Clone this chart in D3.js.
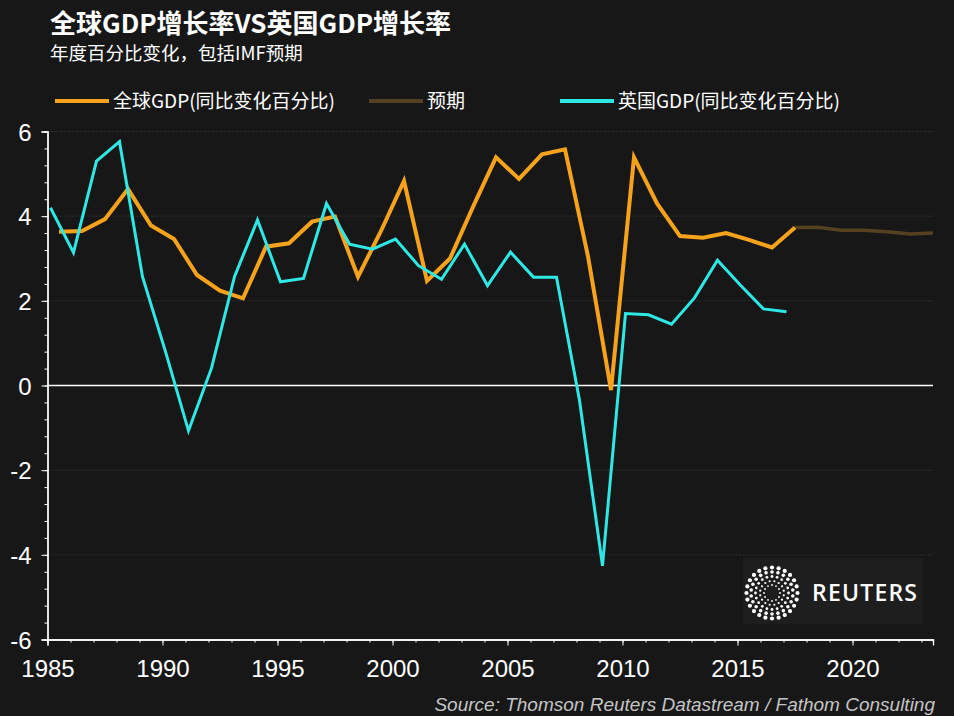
<!DOCTYPE html>
<html>
<head>
<meta charset="utf-8">
<script src="https://cdn.jsdelivr.net/npm/d3@7"></script>
<style>
  html, body { margin: 0; padding: 0; background: #171717; }
  svg { display: block; }
</style>
</head>
<body>
<svg id="chart" width="954" height="716"></svg>
<script>
// world GDP growth (IMF), % y/y, plotted mid-year
const worldYears = d3.range(1985, 2018);
const worldGDP = [3.63, 3.65, 3.93, 4.64, 3.78, 3.46, 2.61, 2.24, 2.06, 3.28, 3.36,
  3.87, 3.99, 2.57, 3.65, 4.83, 2.47, 3.0, 4.22, 5.39, 4.88, 5.46, 5.58, 3.05,
  -0.11, 5.39, 4.3, 3.53, 3.49, 3.6, 3.44, 3.26, 3.73];
// IMF forecast
const forecastYears = [2018, 2019, 2020, 2021, 2022, 2023];
const forecastGDP = [3.74, 3.67, 3.67, 3.63, 3.58, 3.6];
// UK GDP growth, % y/y
const ukYears = d3.range(1985, 2018);
const ukGDP = [4.2, 3.14, 5.3, 5.76, 2.57, 0.8, -1.07, 0.41, 2.57, 3.91, 2.45,
  2.53, 4.3, 3.34, 3.22, 3.46, 2.83, 2.51, 3.34, 2.36, 3.15, 2.56, 2.56, -0.35,
  -4.26, 1.7, 1.67, 1.45, 2.07, 2.96, 2.37, 1.81, 1.74];

const yMajor = [-6, -4, -2, 0, 2, 4, 6];
const xMajor = [1985, 1990, 1995, 2000, 2005, 2010, 2015, 2020];

const legendItems = [
  {label: '全球GDP(同比变化百分比)', color: '#f7a21b', x: 55},
  {label: '预期', color: '#55401f', x: 369},
  {label: '英国GDP(同比变化百分比)', color: '#2ee8e6', x: 560}
];

const svg = d3.select('#chart');
const cjk = '"Noto Sans CJK SC", "Noto Sans", sans-serif';
const latin = '"Liberation Sans", Arial, sans-serif';

let x = d3.scaleLinear().domain([1985, 2023.5]).range([47.5, 933]);
let y = d3.scaleLinear().domain([-6, 6]).range([639.5, 131.5]);

// dotted gridlines
svg.append('g')
  .selectAll('line')
  .data(yMajor.filter(d => d !== 0))
  .enter()
  .append('line')
  .attr('x1', x(1985))
  .attr('x2', x(2023.5))
  .attr('y1', d => y(d))
  .attr('y2', d => y(d))
  .attr('stroke', '#343434')
  .attr('stroke-width', 1)
  .attr('stroke-dasharray', '2,2');

// zero line
svg.append('line')
  .attr('x1', x(1985))
  .attr('x2', x(2023.5))
  .attr('y1', y(0))
  .attr('y2', y(0))
  .attr('stroke', '#ffffff')
  .attr('stroke-width', 1.3);

// y axis: minor ticks every 0.4, labelled majors every 2
let yMinor = svg.append('g')
  .attr('transform', 'translate(' + x(1985) + ',0)')
  .call(d3.axisLeft(y).tickValues(d3.range(0, 31).map(i => -6 + i * 0.4)).tickSize(3).tickFormat(''));

let yAxis = svg.append('g')
  .attr('transform', 'translate(' + x(1985) + ',0)')
  .call(d3.axisLeft(y).tickValues(yMajor).tickSize(6).tickPadding(10).tickFormat(d => String(d)));

// x axis
let xMinor = svg.append('g')
  .attr('transform', 'translate(0,' + y(-6) + ')')
  .call(d3.axisBottom(x).tickValues(d3.range(1985, 2024)).tickSize(3).tickFormat(''));

let xAxis = svg.append('g')
  .attr('transform', 'translate(0,' + y(-6) + ')')
  .call(d3.axisBottom(x).tickValues(xMajor).tickSize(6).tickPadding(14).tickFormat(d => String(d)));

[yMinor, yAxis, xMinor, xAxis].forEach(g => {
  g.select('.domain').attr('stroke', '#ffffff').attr('stroke-width', 1.3);
  g.selectAll('.tick line').attr('stroke', '#ffffff').attr('stroke-width', 1);
  g.selectAll('text')
    .attr('fill', '#ffffff')
    .style('font-family', latin)
    .style('font-size', '24px');
});
yAxis.selectAll('text').attr('dy', '0.36em');

// series
let worldLine = d3.line()
  .x(d => x(d.year + 0.5))
  .y(d => y(d.value));
let ukLine = d3.line()
  .x(d => x(d.year + 0.13))
  .y(d => y(d.value));

let world = worldYears.map((yr, i) => ({year: yr, value: worldGDP[i]}));
let forecast = [world[world.length - 1]].concat(
  forecastYears.map((yr, i) => ({year: yr, value: forecastGDP[i]})));
let uk = ukYears.map((yr, i) => ({year: yr, value: ukGDP[i]}));

svg.append('path')
  .datum(forecast)
  .attr('d', worldLine)
  .attr('fill', 'none')
  .attr('stroke', legendItems[1].color)
  .attr('stroke-width', 3.5);

svg.append('path')
  .datum(world)
  .attr('d', worldLine)
  .attr('fill', 'none')
  .attr('stroke', legendItems[0].color)
  .attr('stroke-width', 4)
  .attr('stroke-linejoin', 'miter');

svg.append('path')
  .datum(uk)
  .attr('d', ukLine)
  .attr('fill', 'none')
  .attr('stroke', legendItems[2].color)
  .attr('stroke-width', 3)
  .attr('stroke-linejoin', 'miter');

// title block
svg.append('text')
  .attr('x', 50)
  .attr('y', 33)
  .attr('fill', '#ffffff')
  .style('font-family', cjk)
  .style('font-size', '26px')
  .style('font-weight', 'bold')
  .text('全球GDP增长率VS英国GDP增长率');

svg.append('text')
  .attr('x', 50)
  .attr('y', 60)
  .attr('fill', '#ffffff')
  .style('font-family', cjk)
  .style('font-size', '18.5px')
  .text('年度百分比变化，包括IMF预期');

// legend
let legend = svg.selectAll('.legend')
  .data(legendItems)
  .enter()
  .append('g')
  .attr('class', 'legend')
  .attr('transform', d => 'translate(' + d.x + ',101)');

legend.append('line')
  .attr('x1', 0)
  .attr('x2', 54)
  .attr('stroke', d => d.color)
  .attr('stroke-width', 4);

legend.append('text')
  .attr('x', 58)
  .attr('y', 6.5)
  .attr('fill', '#ffffff')
  .style('font-family', cjk)
  .style('font-size', '19px')
  .text(d => d.label);

// reuters logo
let logo = svg.append('g').attr('transform', 'translate(743,558)');
logo.append('rect')
  .attr('width', 180)
  .attr('height', 66)
  .attr('fill', '#1e1e1e');

let rings = [
  {r: 8, n: 12, s: 0.9},
  {r: 12, n: 16, s: 1.1},
  {r: 16.5, n: 20, s: 1.4},
  {r: 21, n: 22, s: 1.8},
  {r: 25.5, n: 24, s: 2.1}
];
let dots = [];
rings.forEach((ring, k) => {
  d3.range(ring.n).forEach(j => {
    let a = (j + (k % 2) * 0.5) / ring.n * 2 * Math.PI;
    dots.push({x: Math.cos(a) * ring.r, y: Math.sin(a) * ring.r, s: ring.s});
  });
});
logo.append('g')
  .attr('transform', 'translate(29,35)')
  .selectAll('circle')
  .data(dots)
  .enter()
  .append('circle')
  .attr('cx', d => d.x)
  .attr('cy', d => d.y)
  .attr('r', d => d.s)
  .attr('fill', '#ffffff');

logo.append('text')
  .attr('x', 69)
  .attr('y', 43)
  .attr('fill', '#ffffff')
  .attr('textLength', 105)
  .style('font-family', '"Open Sans", sans-serif')
  .style('font-size', '23px')
  .style('font-weight', 600)
  .text('REUTERS');

// source
svg.append('text')
  .attr('x', 935)
  .attr('y', 711)
  .attr('text-anchor', 'end')
  .attr('fill', '#c4c4c4')
  .style('font-family', latin)
  .style('font-size', '19px')
  .style('font-style', 'italic')
  .text('Source: Thomson Reuters Datastream / Fathom Consulting');
</script>
</body>
</html>
